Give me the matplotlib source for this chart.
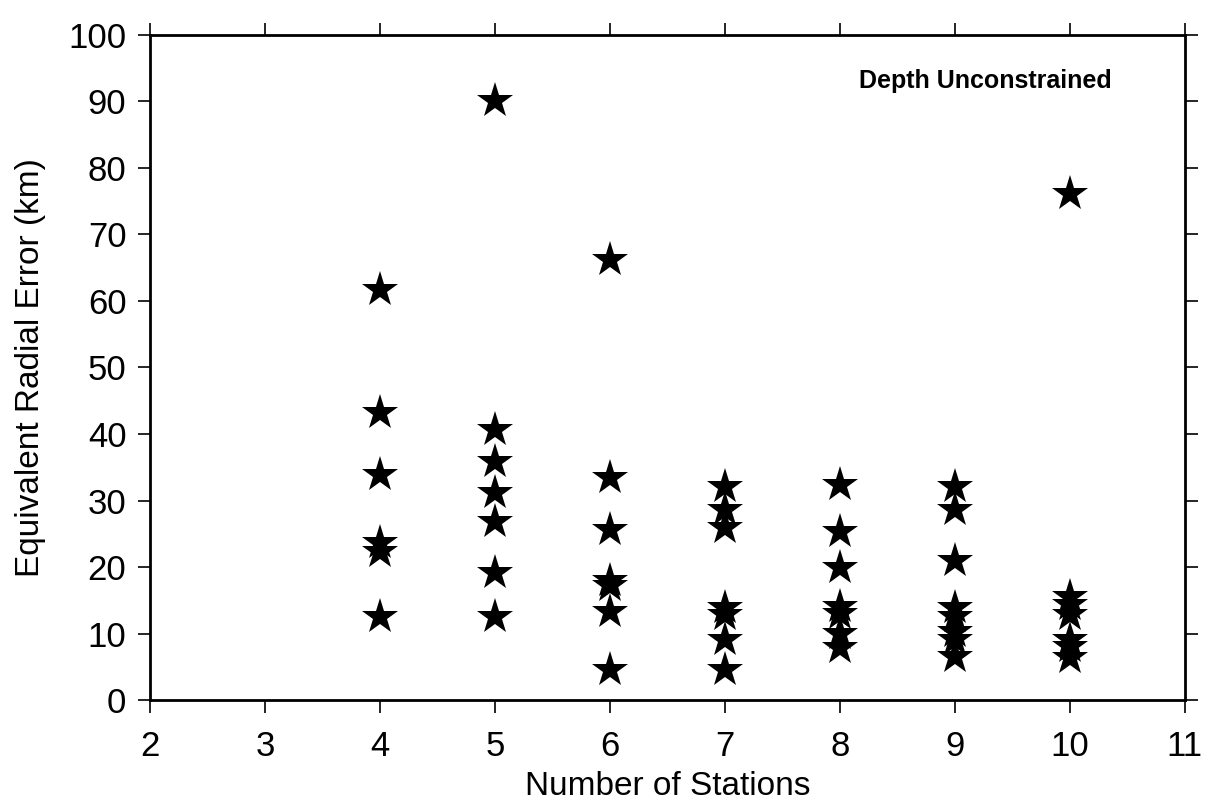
import matplotlib.pyplot as plt

# number of stations per event and the equivalent radial error (km)
stations = (
    [4] * 6 + [5] * 7 + [6] * 7 + [7] * 7 + [8] * 7 + [9] * 8 + [10] * 7
)
radial_error = [
    # 4 stations
    61.7, 43.2, 33.8, 23.6, 22.3, 12.5,
    # 5 stations
    90.0, 40.6, 35.8, 31.1, 26.8, 19.1, 12.5,
    # 6 stations
    66.2, 33.4, 25.6, 18.0, 17.2, 13.2, 4.5,
    # 7 stations
    32.0, 28.6, 25.9, 13.8, 12.8, 9.0, 4.5,
    # 8 stations
    32.3, 25.3, 19.9, 14.0, 13.0, 10.0, 7.8,
    # 9 stations
    32.0, 28.6, 21.0, 13.8, 12.5, 10.2, 9.0, 6.5,
    # 10 stations
    76.0, 15.5, 14.3, 12.8, 9.0, 8.0, 6.3,
]
x_ticks = list(range(2, 12))
y_ticks = list(range(0, 101, 10))

plt.rcParams['font.family'] = ['Liberation Sans', 'DejaVu Sans']

fig = plt.figure(figsize=(12.1, 8.05), dpi=100)
ax = fig.add_axes([0.124, 0.130, 0.855, 0.827])

ax.plot(stations, radial_error, linestyle='none', marker='*',
        markersize=27, color='black', markeredgewidth=0)

# appearance
ax.set_xlim(2, 11)
ax.set_ylim(0, 100)
ax.set_xticks(x_ticks)
ax.set_yticks(y_ticks)
ax.tick_params(direction='out', length=9, width=1.2, labelsize=25,
               top=True, right=True)
ax.tick_params(axis='x', pad=12)
ax.tick_params(axis='y', pad=8)
for spine in ax.spines.values():
    spine.set_linewidth(2)

ax.set_xlabel('Number of Stations', fontsize=24, labelpad=6)
ax.set_ylabel('Equivalent Radial Error (km)', fontsize=24, labelpad=16)
ax.text(8.17, 93, 'Depth Unconstrained', fontsize=18, fontweight='bold',
        ha='left', va='center')

fig.savefig('out.png', dpi=100)
